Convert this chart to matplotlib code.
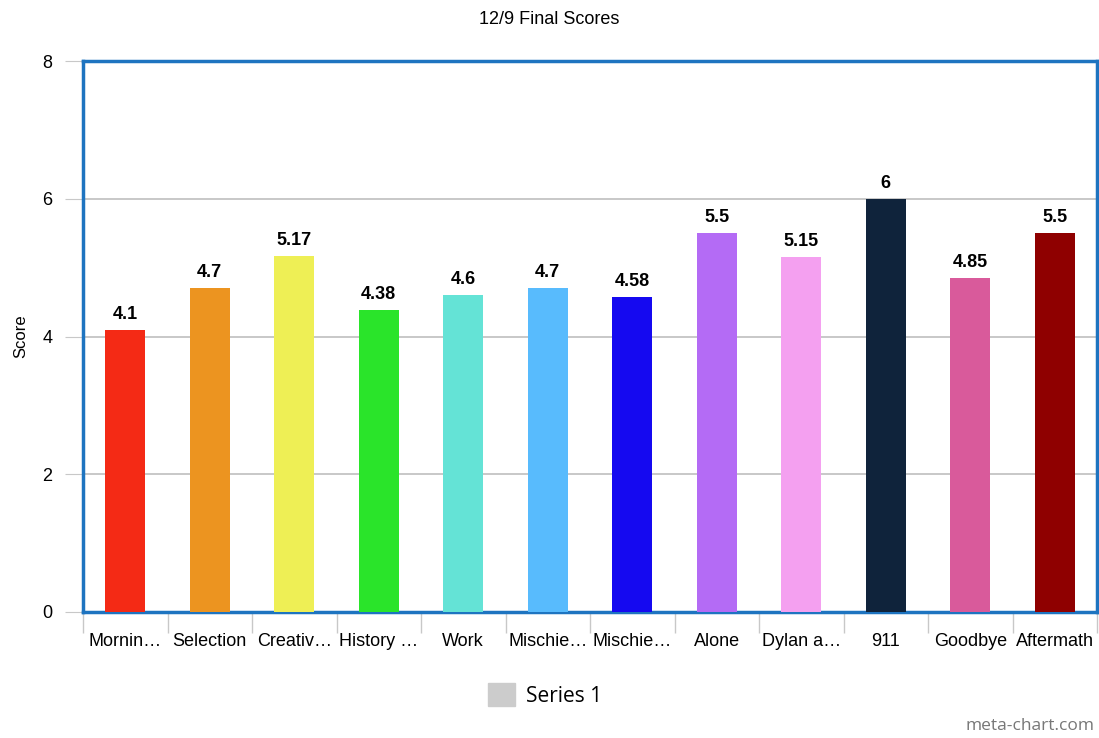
import numpy as np
import matplotlib.pyplot as plt
from matplotlib.patches import Patch

# Chart data
categories = ["Mornin\u2026", "Selection", "Creativ\u2026", "History \u2026", "Work",
              "Mischie\u2026", "Mischie\u2026", "Alone", "Dylan a\u2026", "911",
              "Goodbye", "Aftermath"]
scores = [4.1, 4.7, 5.17, 4.38, 4.6, 4.7, 4.58, 5.5, 5.15, 6, 4.85, 5.5]
score_labels = ["4.1", "4.7", "5.17", "4.38", "4.6", "4.7", "4.58", "5.5",
                "5.15", "6", "4.85", "5.5"]
bar_colors = ["#F42A15", "#EC9420", "#EEEF55", "#2AE42A", "#64E3D6", "#58BBFD",
              "#1509F0", "#B46BF5", "#F4A0F0", "#0F233B", "#D95A9B", "#8F0000"]
y_ticks = [0, 2, 4, 6, 8]

plt.rcParams['font.family'] = ['Liberation Sans', 'DejaVu Sans']

fig = plt.figure(figsize=(10.99, 7.38), dpi=100)
ax = fig.add_axes([83 / 1099, 1 - 612 / 738, 1014 / 1099, 551 / 738])

x = np.arange(len(categories))
ax.bar(x, scores, width=0.47, color=bar_colors, zorder=3)

# value labels above bars
for xi, v, lab in zip(x, scores, score_labels):
    ax.annotate(lab, (xi, v), xytext=(0, 5),
                textcoords="offset points", ha="center", va="bottom",
                fontsize=13, fontweight="bold")

ax.set_xlim(-0.5, len(categories) - 0.5)
ax.set_ylim(0, 8)
ax.set_yticks(y_ticks)
ax.yaxis.grid(True, color="#c8c8c8", linewidth=1.4, zorder=0)
ax.tick_params(axis="y", length=13, color="#c8c8c8", labelsize=13, pad=9)

ax.set_xticks(x)
ax.set_xticklabels(categories, fontsize=13)
ax.set_xticks(np.arange(len(categories) + 1) - 0.5, minor=True)
ax.tick_params(axis="x", which="major", length=0, pad=15)
ax.tick_params(axis="x", which="minor", length=15, color="#c8c8c8", width=1)

for sp in ax.spines.values():
    sp.set_color("#1E74C0")
    sp.set_linewidth(2.5)
ax.set_axisbelow(True)

ax.set_ylabel("Score", fontsize=12, labelpad=10)
fig.suptitle("12/9 Final Scores", fontsize=13, y=0.985)

fig.legend(handles=[Patch(color="#cccccc", label="Series 1")],
           loc="center", bbox_to_anchor=(0.496, 1 - 695 / 738), frameon=False,
           prop={"family": "Open Sans", "size": 15}, handlelength=1.3,
           handleheight=1.3, handletextpad=0.5)

fig.text(0.996, 0.006, "meta-chart.com", ha="right", va="bottom",
         fontsize=12.5, color="#777777", family="Open Sans")

fig.savefig("out.png", dpi=100)
